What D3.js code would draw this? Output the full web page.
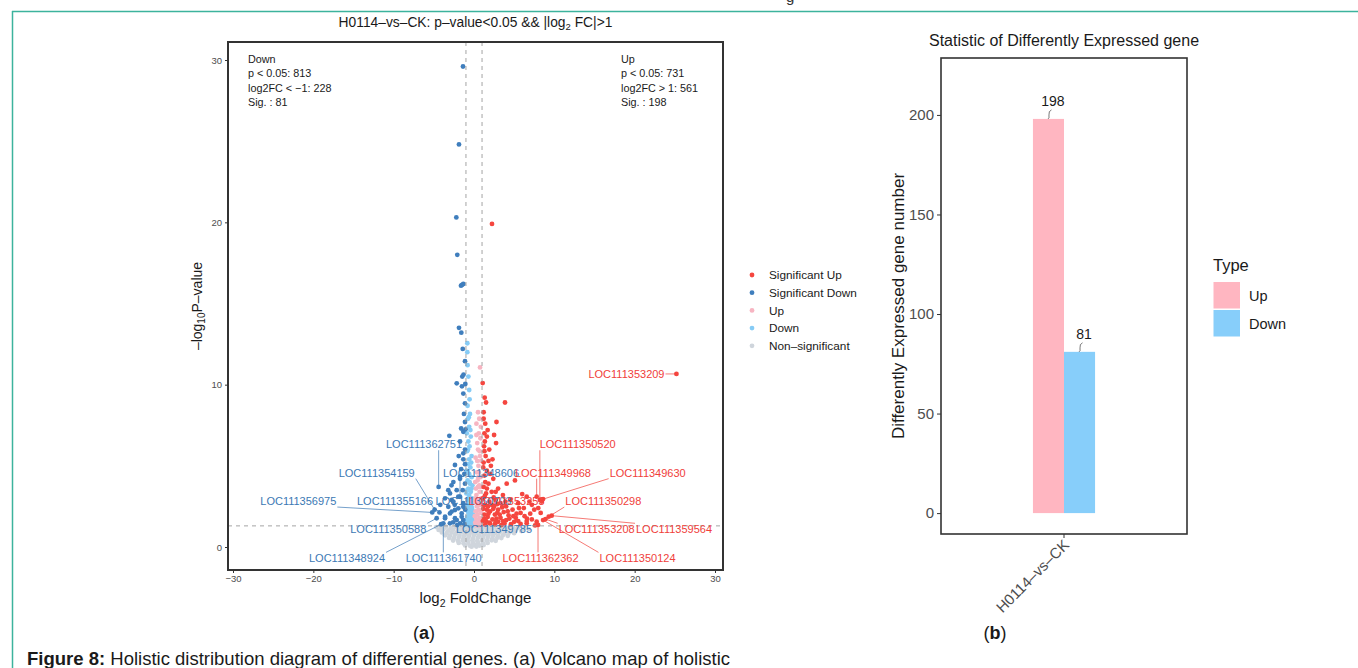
<!DOCTYPE html>
<html>
<head>
<meta charset="utf-8">
<script src="https://cdn.jsdelivr.net/npm/d3@7"></script>
<style>
  body { margin: 0; background: #fff; }
  svg text { font-family: "Liberation Sans", Arial, Helvetica, sans-serif; }
</style>
</head>
<body>
<svg id="fig" width="1358" height="668"></svg>
<script>
// ---------- volcano data: [log2FC, -log10 p] ----------
const sigDown = [
  [-1.37,29.6],[-1.87,24.8],[-2.2,20.3],[-2.08,18.0],[-1.62,16.1],[-1.48,16.15],[-1.33,16.2],
  [-1.87,13.5],[-1.58,13.2],[-1.12,11.45],[-1.46,10.5],[-1.3,10.62],[-2.15,10.08],[-1.08,10.04],
  [-1.33,9.45],[-1.12,8.85],[-1.12,7.7],[-1.33,7.1],[-1.05,7.25],[-3.07,6.85],[-1.74,6.5],
  [-1.12,6.0],[-1.33,5.77],[-1.33,5.4],[-2.37,5.05],[-1.12,5.1],[-1.74,4.33],[-2.57,4.0],
  [-1.12,3.9],[-4.4,3.7],[-1.74,4.2],[-2.15,3.5],[-3.2,3.5],[-2.99,3.3],[-1.74,3.1],[-1.95,3.1],
  [-3.6,3.0],[-2.78,2.9],[-2.57,2.8],[-1.33,2.7],[-4.2,2.6],[-3.2,2.48],[-1.33,2.48],[-1.95,2.38],
  [-2.37,2.28],[-4.9,2.3],[-5.2,2.13],[-4.3,2.13],[-2.78,2.18],[-2.99,2.07],[-1.53,2.07],
  [-4.65,1.77],[-3.6,1.87],[-1.53,1.87],[-2.37,1.77],[-3.6,1.77],[-2.15,1.66],[-1.33,1.66],
  [-3.82,1.46],[-3.0,1.46],[-1.74,1.46],[-2.6,1.52],[-1.2,1.4],[-2.1,1.35],[-4.1,1.4],[-1.1,2.3],
  [-1.4,3.5],[-2.4,2.6],[-1.6,4.8],[-1.2,4.5],[-1.9,5.6],[-2.8,3.8],[-1.5,9.9],[-1.4,12.2],
  [-1.25,8.2],[-1.6,7.3]
];
const sigUp = [
  [2.24,19.9],[1.08,10.1],[1.33,9.2],[1.5,8.9],[3.86,8.9],[25.2,10.66],[2.8,7.7],[2.75,6.4],
  [1.2,8.3],[1.4,7.6],[1.3,7.0],[1.6,6.8],[1.25,6.2],[1.9,6.0],[1.45,5.6],[1.2,5.2],[2.1,5.0],
  [1.6,4.7],[4.07,3.9],[5.1,4.1],[1.3,4.4],[2.4,4.2],[1.8,3.9],[1.2,3.7],[3.0,3.6],[2.2,3.4],
  [1.5,3.3],[3.6,3.2],[6.0,3.26],[6.56,3.1],[7.8,3.1],[8.43,2.8],[8.6,2.95],[8.2,2.9],[1.1,3.0],
  [2.7,2.9],[4.5,2.9],[1.9,2.8],[3.3,2.7],[5.5,2.7],[7.2,2.6],[1.4,2.6],[2.5,2.5],[4.0,2.5],
  [6.2,2.4],[8.0,2.4],[1.15,2.35],[3.0,2.3],[4.8,2.3],[2.0,2.2],[3.7,2.15],[5.8,2.1],[7.0,2.05],
  [1.3,2.0],[2.6,2.0],[4.3,1.95],[9.67,1.93],[9.3,1.87],[1.7,1.85],[3.3,1.8],[5.2,1.8],[6.6,1.75],
  [8.9,1.72],[2.3,1.7],[4.0,1.65],[8.6,1.66],[7.8,1.56],[1.1,1.6],[3.0,1.55],[5.0,1.55],[6.56,1.6],
  [6.56,1.46],[1.9,1.5],[3.8,1.45],[2.6,1.4],[4.6,1.4],[5.8,1.42],[7.97,1.36],[1.4,1.38],[3.4,1.35],
  [7.6,1.33],[1.6,2.3],[2.2,2.6],[2.9,2.1],[3.5,2.45],[4.2,2.2],[1.25,1.75],[2.0,1.45],[2.8,1.75],
  [3.6,1.6],[4.4,1.75],[5.3,2.05],[1.8,2.05],[2.4,2.35],[3.2,2.0],[1.5,1.6],[2.7,1.55],[4.9,1.9],
  [1.2,2.55],[1.75,2.5],[2.9,2.65],[3.9,2.8],[5.6,2.4],[1.35,3.15],[2.45,3.05],[1.6,3.6],[2.7,3.4],
  [1.4,4.0],[2.0,4.5],[1.8,5.3],[1.3,5.9],[1.15,4.9],[2.3,5.4],[1.7,7.2],[1.2,7.9],[1.35,6.5],
  [2.5,6.9],[6.9,2.8],[7.5,2.3],[6.3,1.9],[5.5,1.6],[7.2,1.7],[8.3,2.1]
];
const upOnly = [
  [0.75,11.06],[0.5,8.3],[0.3,7.6],[0.65,7.9],[0.6,7.0],[0.4,6.4],[0.8,6.7],[0.7,5.9],[0.2,5.5],
  [0.55,5.0],[0.9,5.3],[0.35,4.6],[0.8,4.3],[0.15,4.0],[0.5,3.7],[0.7,3.4],[0.3,3.2],[0.9,3.0],
  [0.1,2.8],[0.55,2.9],[0.75,2.6],[0.35,2.5],[0.2,2.2],[0.6,2.3],[0.9,2.1],[0.45,2.0],[0.1,1.9],
  [0.7,1.8],[0.3,1.7],[0.55,1.6],[0.85,1.55],[0.15,1.5],[0.4,1.45],[0.65,1.4],[0.25,1.35],[0.9,1.35],
  [0.5,1.32],[0.45,4.1],[0.65,3.8],[0.25,3.6],[0.85,3.7],[0.6,4.6],[0.4,5.3],[0.75,5.6],[0.5,6.0],
  [0.3,6.9],[0.85,7.4],[0.55,4.3],[0.2,3.0],[0.6,2.65],[0.8,2.95],[0.35,2.2]
];
const downOnly = [
  [-0.83,12.55],[-0.83,12.0],[-0.7,10.5],[-0.6,9.67],[-0.55,9.1],[-0.8,8.7],[-0.5,8.2],[-0.75,7.9],
  [-0.6,7.4],[-0.9,7.0],[-0.4,6.8],[-0.7,6.5],[-0.55,6.2],[-0.85,5.9],[-0.3,5.6],[-0.6,5.4],
  [-0.75,5.1],[-0.45,4.9],[-0.9,4.7],[-0.6,4.5],[-0.3,4.3],[-0.8,4.1],[-0.5,3.9],[-0.2,3.8],
  [-0.7,3.6],[-0.4,3.4],[-0.95,3.3],[-0.6,3.2],[-0.25,3.0],[-0.8,2.9],[-0.45,2.8],[-0.15,2.7],
  [-0.65,2.6],[-0.35,2.5],[-0.9,2.4],[-0.55,2.3],[-0.2,2.25],[-0.75,2.15],[-0.4,2.05],[-0.1,2.0],
  [-0.6,1.95],[-0.85,1.85],[-0.3,1.8],[-0.5,1.7],[-0.15,1.65],[-0.7,1.6],[-0.4,1.55],[-0.95,1.5],
  [-0.25,1.45],[-0.55,1.4],[-0.8,1.38],[-0.1,1.35],[-0.65,1.33],[-0.35,1.32],[-0.8,11.2],[-0.65,8.0],
  [-0.45,7.2],[-0.75,6.0],[-0.35,5.2],[-0.55,4.0],[-0.85,3.5],[-0.3,3.6],[-0.7,3.0],[-0.5,2.55],
  [-0.25,2.4],[-0.85,2.6],[-0.65,2.05],[-0.45,1.9],[-0.2,1.55],[-0.9,1.7]
];
const nonSig = [
  [-4.7,1.23],[-4.1,1.2],[-3.5,1.25],[-2.9,1.18],[-2.3,1.24],[-1.7,1.2],[-1.1,1.22],[-0.5,1.18],
  [0.1,1.24],[0.7,1.2],[1.3,1.23],[1.9,1.19],[2.5,1.25],[3.1,1.2],[3.7,1.23],[4.3,1.18],[4.9,1.22],
  [5.5,1.19],[6.2,1.15],[6.8,1.1],
  [-4.4,1.05],[-3.8,1.08],[-3.2,1.02],[-2.6,1.07],[-2.0,1.03],[-1.4,1.08],[-0.8,1.04],[-0.2,1.06],
  [0.4,1.02],[1.0,1.07],[1.6,1.03],[2.2,1.08],[2.8,1.04],[3.4,1.06],[4.0,1.02],[4.6,1.06],[5.2,1.03],
  [5.9,0.98],
  [-4.0,0.9],[-3.4,0.86],[-2.8,0.9],[-2.2,0.87],[-1.6,0.91],[-1.0,0.86],[-0.4,0.89],[0.2,0.87],
  [0.8,0.9],[1.4,0.86],[2.0,0.9],[2.6,0.87],[3.2,0.91],[3.8,0.86],[4.4,0.89],[5.0,0.85],
  [-3.6,0.72],[-3.0,0.7],[-2.4,0.74],[-1.8,0.7],[-1.2,0.73],[-0.6,0.71],[0.0,0.74],[0.6,0.7],
  [1.2,0.73],[1.8,0.71],[2.4,0.74],[3.0,0.7],[3.6,0.72],[4.2,0.69],
  [-3.1,0.56],[-2.5,0.54],[-1.9,0.58],[-1.3,0.55],[-0.7,0.57],[-0.1,0.54],[0.5,0.58],[1.1,0.55],
  [1.7,0.57],[2.3,0.54],[2.9,0.57],[3.4,0.55],
  [-2.6,0.4],[-2.0,0.38],[-1.4,0.42],[-0.8,0.39],[-0.2,0.41],[0.4,0.38],[1.0,0.42],[1.6,0.39],
  [2.2,0.41],[2.7,0.38],
  [-1.9,0.25],[-1.3,0.23],[-0.7,0.26],[-0.1,0.24],[0.5,0.26],[1.1,0.23],[1.7,0.25],
  [-1.1,0.1],[-0.5,0.08],[0.1,0.11],[0.7,0.09],[1.2,0.12],[-0.3,0.02],[0.3,0.03]
];

// labelled genes: name, point (fc, p), side
const labelGenes = ["LOC111362751","LOC111354159","LOC111356975","LOC111355166","LOC111360703",
  "LOC111350588","LOC111348924","LOC111361740","LOC111348606","LOC111349785",
  "LOC111353209","LOC111350520","LOC111349968","LOC111349630","LOC111353253","LOC111350298",
  "LOC111353208","LOC111359564","LOC111362362","LOC111350124"];
const labelFC = [-4.4,-4.9,-5.2,-4.3,-1.95,-4.65,-4.1,-3.82,-1.74,-1.53,
  25.2,8.2,7.8,8.6,6.0,9.3,8.9,9.67,7.97,8.6];
const labelP = [3.7,2.3,2.13,2.13,2.38,1.77,1.4,1.46,3.1,1.87,
  10.66,2.9,3.1,2.95,3.26,1.87,1.72,1.93,1.36,1.66];
const labelSide = ["down","down","down","down","down","down","down","down","down","down",
  "up","up","up","up","up","up","up","up","up","up"];
// where the repelled label text sits, in data units
const labelPosFC = [-6.22,-12.11,-21.87,-9.83,-0.05,-10.67,-15.81,-3.77,0.87,2.49,
  18.98,12.91,9.83,21.62,4.05,16.1,15.27,24.9,8.28,20.35];
const labelPosP = [6.33,4.58,2.83,2.83,2.83,1.09,-0.7,-0.7,4.58,1.09,
  10.66,6.33,4.58,4.58,2.83,2.83,1.09,1.09,-0.7,-0.7];

const downStats = ["Down", "p < 0.05: 813", "log2FC < \u22121: 228", "Sig. : 81"];
const upStats = ["Up", "p < 0.05: 731", "log2FC > 1: 561", "Sig. : 198"];
const legendNames = ["Significant Up", "Significant Down", "Up", "Down", "Non\u2013significant"];

// ---------- bar chart data ----------
const groups = ["H0114\u2013vs\u2013CK"];
const types = ["Up", "Down"];
const counts = [198, 81];

// ---------- styles ----------
const colSigUp = "#f5463f", colSigDown = "#3f7ebd", colUp = "#f7b5c2", colDown = "#86cbf5", colNon = "#cfd5dc";
const legendColors = [colSigUp, colSigDown, colUp, colDown, colNon];
const barColors = ["#ffb6c1", "#87cefa"];
const axisGrey = "#4d4d4d";

const svg = d3.select("#fig");

// page frame
svg.append("line").attr("x1", 12).attr("x2", 1358).attr("y1", 11.5).attr("y2", 11.5)
  .attr("stroke", "#3cb39d").attr("stroke-width", 1.5);
svg.append("line").attr("x1", 12.5).attr("x2", 12.5).attr("y1", 11).attr("y2", 668)
  .attr("stroke", "#3cb39d").attr("stroke-width", 1.5);
svg.append("text").attr("x", 786).attr("y", 2).attr("font-size", 15).attr("fill", "#333").text("g");

/* ===================== (a) volcano ===================== */
const vp = { left: 228, right: 723, top: 42, bottom: 570 };
const xV = d3.scaleLinear().domain([-30, 30]).range([233, 715]);
const yV = d3.scaleLinear().domain([0, 30]).range([547, 60]);

svg.append("clipPath").attr("id", "vclip").append("rect")
  .attr("x", vp.left).attr("y", vp.top).attr("width", vp.right - vp.left).attr("height", vp.bottom - vp.top);

const pts = svg.append("g").attr("clip-path", "url(#vclip)");
function drawPoints(data, color) {
  pts.append("g").selectAll("circle").data(data).enter().append("circle")
    .attr("cx", d => xV(d[0])).attr("cy", d => yV(d[1])).attr("r", 2.4)
    .attr("fill", color);
}
drawPoints(nonSig, colNon);
drawPoints(downOnly, colDown);
drawPoints(upOnly, colUp);
drawPoints(sigDown, colSigDown);
drawPoints(sigUp, colSigUp);

// threshold lines
const dash = pts.append("g").attr("stroke", "#9a9a9a").attr("stroke-width", 0.9).attr("stroke-dasharray", "4,4").attr("fill", "none");
[-1, 1].forEach(v => {
  dash.append("line").attr("x1", xV(v)).attr("x2", xV(v)).attr("y1", vp.top).attr("y2", vp.bottom);
});
dash.append("line").attr("x1", vp.left).attr("x2", vp.right)
  .attr("y1", yV(-Math.log10(0.05))).attr("y2", yV(-Math.log10(0.05)));

// gene labels with repel-like segments
const segG = svg.append("g");
const labG = svg.append("g").attr("font-size", 11);
labelGenes.forEach((g, i) => {
  const col = labelSide[i] === "up" ? "#f0403a" : "#3b78b4";
  const cx = xV(labelPosFC[i]), cy = yV(labelPosP[i]);
  const px = xV(labelFC[i]), py = yV(labelP[i]);
  const t = labG.append("text").attr("x", cx).attr("y", cy).attr("dy", "0.36em")
    .attr("text-anchor", "middle").attr("fill", col).text(g);
  const w = t.node().getComputedTextLength();
  const bx = Math.max(cx - w / 2 - 1, Math.min(px, cx + w / 2 + 1));
  const by = Math.max(cy - 6, Math.min(py, cy + 6));
  if (Math.hypot(bx - px, by - py) > 4) {
    segG.append("line").attr("x1", bx).attr("y1", by).attr("x2", px).attr("y2", py)
      .attr("stroke", col).attr("stroke-width", 0.7);
  }
});

// panel border
svg.append("rect").attr("x", vp.left).attr("y", vp.top).attr("width", vp.right - vp.left)
  .attr("height", vp.bottom - vp.top).attr("fill", "none").attr("stroke", "#333").attr("stroke-width", 2);

// axes
function styleAxis(g, size) {
  g.select(".domain").remove();
  g.selectAll(".tick line").attr("stroke", "#333");
  g.selectAll(".tick text").attr("fill", axisGrey).attr("font-size", size)
    .attr("font-family", "'Liberation Sans', Arial, sans-serif");
}
svg.append("g").attr("transform", `translate(${vp.left},0)`)
  .call(d3.axisLeft(yV).tickValues([0, 10, 20, 30]).tickSize(3).tickPadding(3))
  .call(g => styleAxis(g, 9.5));
svg.append("g").attr("transform", `translate(0,${vp.bottom})`)
  .call(d3.axisBottom(xV).tickValues([-30, -20, -10, 0, 10, 20, 30]).tickSize(3).tickPadding(2))
  .call(g => styleAxis(g, 9.5));

// stats annotations
const statY = [62.5, 77, 91.5, 106];
svg.append("g").attr("font-size", 10.8).attr("fill", "#1a1a1a").selectAll("text")
  .data(downStats).enter().append("text").attr("x", 248).attr("y", (d, i) => statY[i]).text(d => d);
svg.append("g").attr("font-size", 10.8).attr("fill", "#1a1a1a").selectAll("text")
  .data(upStats).enter().append("text").attr("x", 621).attr("y", (d, i) => statY[i]).text(d => d);

// title & axis titles
const vt = svg.append("text").attr("x", (vp.left + vp.right) / 2).attr("y", 27)
  .attr("text-anchor", "middle").attr("font-size", 13.8).attr("fill", "#1a1a1a");
vt.append("tspan").text("H0114\u2013vs\u2013CK: p\u2013value<0.05 && |log");
vt.append("tspan").attr("font-size", 9.5).attr("dy", 3).text("2");
vt.append("tspan").attr("dy", -3).text(" FC|>1");

const xt = svg.append("text").attr("x", (vp.left + vp.right) / 2).attr("y", 603)
  .attr("text-anchor", "middle").attr("font-size", 15).attr("fill", "#1a1a1a");
xt.append("tspan").text("log");
xt.append("tspan").attr("font-size", 10.5).attr("dy", 4).text("2");
xt.append("tspan").attr("dy", -4).text(" FoldChange");

const yt = svg.append("text").attr("transform", `translate(202,${(vp.top + vp.bottom) / 2}) rotate(-90)`)
  .attr("text-anchor", "middle").attr("font-size", 14).attr("fill", "#1a1a1a");
yt.append("tspan").text("\u2013log");
yt.append("tspan").attr("font-size", 10).attr("dy", 3).text("10");
yt.append("tspan").attr("dy", -3).text("P\u2013value");

// legend
const legY = [275, 292.7, 310.4, 328.1, 345.8];
const lg = svg.append("g");
legendNames.forEach((n, i) => {
  lg.append("circle").attr("cx", 752).attr("cy", legY[i]).attr("r", 2.4).attr("fill", legendColors[i]);
  lg.append("text").attr("x", 769).attr("y", legY[i]).attr("dy", "0.36em").attr("font-size", 11.8)
    .attr("fill", "#1a1a1a").text(n);
});

/* ===================== (b) bar chart ===================== */
const bp = { left: 941, right: 1187, top: 58, bottom: 534 };
const yB = d3.scaleLinear().domain([-10.5, 228.6]).range([bp.bottom, bp.top]);
const x0 = d3.scaleBand().domain(groups).range([bp.left, bp.right]).paddingInner(0).paddingOuter(1.48);
const x1 = d3.scaleBand().domain(types).range([0, x0.bandwidth()]);

const barG = svg.append("g");
types.forEach((t, i) => {
  const bx = x0(groups[0]) + x1(t);
  barG.append("rect").attr("x", bx).attr("y", yB(counts[i])).attr("width", x1.bandwidth())
    .attr("height", yB(0) - yB(counts[i])).attr("fill", barColors[i]);
  const cx = bx + x1.bandwidth() / 2;
  const top = yB(counts[i]);
  barG.append("text").attr("x", cx + 4.5).attr("y", top - 13).attr("text-anchor", "middle")
    .attr("font-size", 14).attr("fill", "#1a1a1a").text(counts[i]);
  barG.append("path")
    .attr("d", `M${cx + 3},${top - 9} Q${cx},${top - 8} ${cx + 0.5},${top - 4} T${cx - 0.5},${top}`)
    .attr("fill", "none").attr("stroke", "#555").attr("stroke-width", 0.8);
});

svg.append("rect").attr("x", bp.left).attr("y", bp.top).attr("width", bp.right - bp.left)
  .attr("height", bp.bottom - bp.top).attr("fill", "none").attr("stroke", "#333").attr("stroke-width", 1.6);

svg.append("g").attr("transform", `translate(${bp.left},0)`)
  .call(d3.axisLeft(yB).tickValues([0, 50, 100, 150, 200]).tickSize(4).tickPadding(3))
  .call(g => styleAxis(g, 15));
const xb = svg.append("g").attr("transform", `translate(0,${bp.bottom})`)
  .call(d3.axisBottom(x0).tickSize(4))
  .call(g => styleAxis(g, 15));
xb.selectAll(".tick text").attr("text-anchor", "end").attr("dy", null).attr("y", null)
  .attr("transform", "translate(6,12) rotate(-45)");

svg.append("text").attr("x", (bp.left + bp.right) / 2).attr("y", 46).attr("text-anchor", "middle")
  .attr("font-size", 16).attr("fill", "#1a1a1a").text("Statistic of Differently Expressed gene");
svg.append("text").attr("transform", `translate(898,${(bp.top + bp.bottom) / 2 + 10}) rotate(-90)`)
  .attr("dy", "0.36em").attr("text-anchor", "middle").attr("font-size", 17).attr("fill", "#1a1a1a")
  .text("Differently Expressed gene number");

// legend
svg.append("text").attr("x", 1213).attr("y", 271).attr("font-size", 16.5).attr("fill", "#1a1a1a").text("Type");
types.forEach((t, i) => {
  svg.append("rect").attr("x", 1213.5).attr("y", 282 + i * 28).attr("width", 26.5).attr("height", 26.5)
    .attr("fill", barColors[i]);
  svg.append("text").attr("x", 1249).attr("y", 295.5 + i * 28).attr("dy", "0.36em")
    .attr("font-size", 14.5).attr("fill", "#1a1a1a").text(t);
});

/* ===================== panel tags & caption ===================== */
const ta = svg.append("text").attr("x", 424).attr("y", 639).attr("text-anchor", "middle").attr("font-size", 18).attr("fill", "#1a1a1a");
ta.append("tspan").text("(");
ta.append("tspan").attr("font-weight", "bold").text("a");
ta.append("tspan").text(")");
const tb = svg.append("text").attr("x", 995).attr("y", 639).attr("text-anchor", "middle").attr("font-size", 18).attr("fill", "#1a1a1a");
tb.append("tspan").text("(");
tb.append("tspan").attr("font-weight", "bold").text("b");
tb.append("tspan").text(")");

const cap = svg.append("text").attr("x", 27).attr("y", 665).attr("font-size", 18.5).attr("fill", "#1a1a1a");
cap.append("tspan").attr("font-weight", "bold").text("Figure 8:");
cap.append("tspan").text(" Holistic distribution diagram of differential genes. (a) Volcano map of holistic");
</script>
</body>
</html>
